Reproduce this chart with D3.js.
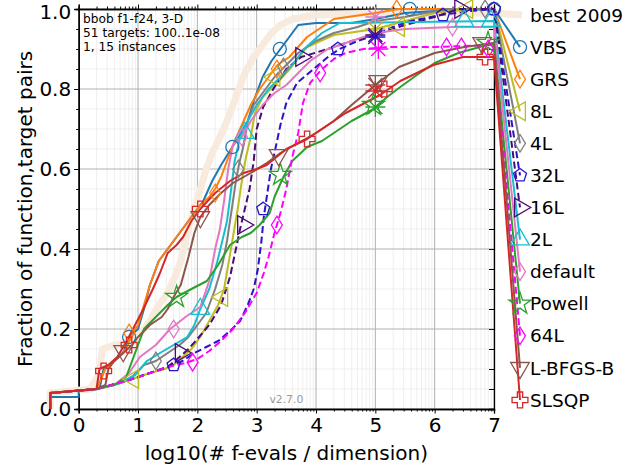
<!DOCTYPE html>
<html lang="en">
<head>
<meta charset="UTF-8">
<title>bbob f1-f24, 3-D runtime ECDF</title>
<script src="https://d3js.org/d3.v7.min.js"></script>
<style>
  body { margin: 0; background: #fff; }
  svg { display: block; font-family: "DejaVu Sans", sans-serif; }
</style>
</head>
<body>
<div id="chart"></div>
<script>
// legend order, top to bottom
const algNames = ["best 2009", "VBS", "GRS", "8L", "4L", "32L", "16L", "2L", "default", "Powell", "64L", "L-BFGS-B", "SLSQP"];
const xTicks = [0, 1, 2, 3, 4, 5, 6, 7];
const yTicks = [0.0, 0.2, 0.4, 0.6, 0.8, 1.0];
const infoLines = ["bbob f1-f24, 3-D", "51 targets: 100..1e-08", "1, 15 instances"];

// ECDF curves: [log10(# f-evals / dim), fraction]
const curveBest = [[-0.48,0],[-0.48,0.04],[0.2,0.05],[0.35,0.09],[0.4,0.15],[0.6,0.16],[0.9,0.165],[1.05,0.19],[1.2,0.22],[1.35,0.26],[1.5,0.29],[1.62,0.33],[1.72,0.37],[1.8,0.42],[1.88,0.47],[1.95,0.5],[2.05,0.55],[2.15,0.6],[2.25,0.64],[2.35,0.67],[2.5,0.72],[2.6,0.76],[2.7,0.8],[2.8,0.84],[2.95,0.88],[3.1,0.91],[3.25,0.94],[3.4,0.96],[3.6,0.975],[4,0.985],[5,0.99],[6,0.99],[7,0.99]];
const curveVBS = [[-0.48,0],[-0.48,0.03],[0,0.03],[0,0.045],[0.35,0.05],[0.42,0.1],[0.6,0.12],[0.75,0.14],[0.85,0.18],[1.0,0.2],[1.1,0.25],[1.2,0.31],[1.35,0.37],[1.5,0.4],[1.65,0.43],[1.8,0.46],[2.0,0.5],[2.1,0.52],[2.25,0.57],[2.4,0.61],[2.59,0.655],[2.7,0.68],[2.85,0.72],[2.95,0.77],[3.1,0.83],[3.25,0.87],[3.4,0.9],[3.55,0.93],[3.7,0.96],[4.0,0.965],[4.6,0.965],[5.0,0.975],[5.5,0.99],[6,0.995],[7,1.0]];
const curveGRS = [[-0.48,0],[-0.48,0.04],[0.3,0.05],[0.45,0.1],[0.6,0.12],[0.8,0.15],[0.9,0.19],[1.0,0.21],[1.1,0.26],[1.2,0.31],[1.35,0.37],[1.5,0.4],[1.7,0.44],[1.9,0.48],[2.05,0.51],[2.2,0.53],[2.3,0.55],[2.4,0.58],[2.5,0.62],[2.6,0.66],[2.75,0.71],[2.9,0.76],[3.05,0.8],[3.2,0.83],[3.35,0.86],[3.55,0.88],[3.85,0.93],[4.1,0.955],[4.3,0.975],[5.0,0.99],[5.4,1.0],[7,1.0]];
const curve8L = [[-0.48,0],[-0.48,0.04],[0.3,0.05],[0.6,0.06],[0.9,0.075],[1.2,0.09],[1.45,0.1],[1.6,0.11],[1.75,0.13],[1.9,0.15],[2.05,0.18],[2.2,0.22],[2.35,0.26],[2.45,0.3],[2.52,0.36],[2.6,0.43],[2.68,0.5],[2.75,0.57],[2.82,0.63],[2.9,0.68],[2.97,0.74],[3.1,0.78],[3.34,0.815],[3.56,0.85],[3.85,0.905],[4.3,0.935],[5.0,0.95],[5.5,0.97],[6,0.99],[6.5,1.0],[7,1.0]];
const curve4L = [[-0.48,0],[-0.48,0.04],[0.3,0.05],[0.7,0.065],[0.9,0.08],[1.1,0.11],[1.3,0.12],[1.5,0.14],[1.7,0.16],[1.85,0.18],[2.0,0.21],[2.15,0.24],[2.3,0.3],[2.42,0.36],[2.5,0.42],[2.58,0.5],[2.65,0.57],[2.7,0.61],[2.78,0.66],[2.85,0.72],[2.95,0.76],[3.1,0.79],[3.3,0.83],[3.5,0.86],[3.7,0.89],[4.0,0.92],[4.3,0.94],[4.7,0.955],[5.0,0.97],[5.5,0.98],[6.2,1.0],[7,1.0]];
const curve32L = [[-0.48,0],[-0.48,0.04],[0.3,0.05],[0.8,0.07],[1.2,0.09],[1.5,0.105],[1.75,0.12],[1.95,0.14],[2.15,0.155],[2.35,0.17],[2.55,0.195],[2.72,0.22],[2.85,0.26],[2.95,0.3],[3.02,0.35],[3.08,0.42],[3.12,0.48],[3.18,0.54],[3.24,0.6],[3.3,0.64],[3.4,0.71],[3.5,0.765],[3.68,0.815],[4.0,0.855],[4.24,0.885],[4.4,0.9],[4.7,0.92],[5.0,0.935],[5.3,0.955],[5.6,0.97],[6.1,0.985],[6.6,0.995],[7,1.0]];
const curve16L = [[-0.48,0],[-0.48,0.04],[0.3,0.05],[0.8,0.07],[1.2,0.09],[1.5,0.105],[1.7,0.13],[1.85,0.15],[2.0,0.175],[2.2,0.21],[2.4,0.26],[2.55,0.33],[2.65,0.4],[2.72,0.45],[2.8,0.5],[2.88,0.55],[2.95,0.62],[3.0,0.7],[3.11,0.755],[3.28,0.8],[3.5,0.85],[3.75,0.88],[4.2,0.9],[4.6,0.92],[5.0,0.935],[5.5,0.96],[6.0,0.98],[6.4,1.0],[7,1.0]];
const curve2L = [[-0.48,0],[-0.48,0.04],[0.3,0.05],[0.7,0.065],[0.95,0.085],[1.15,0.12],[1.37,0.14],[1.6,0.16],[1.83,0.18],[1.95,0.21],[2.05,0.25],[2.2,0.3],[2.33,0.365],[2.42,0.42],[2.5,0.47],[2.57,0.55],[2.63,0.62],[2.72,0.68],[2.85,0.72],[3.0,0.76],[3.2,0.8],[3.4,0.83],[3.6,0.86],[3.8,0.9],[4.1,0.94],[4.4,0.965],[7,0.97]];
const curveDefault = [[-0.48,0],[-0.48,0.04],[0.3,0.05],[0.6,0.06],[0.85,0.09],[1.03,0.13],[1.3,0.16],[1.54,0.2],[1.8,0.23],[2.05,0.255],[2.2,0.32],[2.3,0.4],[2.38,0.45],[2.45,0.52],[2.52,0.6],[2.6,0.66],[2.75,0.68],[2.9,0.72],[3.1,0.76],[3.3,0.79],[3.5,0.81],[3.7,0.84],[3.9,0.87],[4.2,0.9],[4.6,0.92],[5.0,0.94],[5.5,0.95],[6.3,0.955],[7,0.955]];
const curvePowell = [[-0.48,0],[-0.48,0.04],[0.3,0.05],[0.6,0.06],[0.8,0.08],[0.9,0.12],[1.0,0.16],[1.1,0.2],[1.3,0.23],[1.5,0.26],[1.65,0.28],[1.9,0.3],[2.16,0.32],[2.35,0.36],[2.55,0.41],[2.75,0.43],[2.9,0.44],[3.05,0.46],[3.22,0.49],[3.3,0.53],[3.45,0.58],[3.6,0.62],[3.85,0.655],[4.1,0.67],[4.3,0.69],[4.6,0.72],[4.97,0.75],[5.2,0.78],[5.42,0.805],[5.7,0.835],[6.0,0.865],[6.4,0.89],[7,0.915]];
const curve64L = [[-0.48,0],[-0.48,0.04],[0.3,0.05],[0.8,0.07],[1.2,0.09],[1.5,0.105],[1.8,0.115],[2.0,0.125],[2.2,0.145],[2.4,0.17],[2.6,0.2],[2.8,0.24],[3.0,0.29],[3.12,0.34],[3.2,0.38],[3.3,0.44],[3.4,0.49],[3.5,0.55],[3.6,0.63],[3.7,0.69],[3.78,0.765],[3.9,0.815],[4.07,0.845],[4.3,0.875],[4.5,0.89],[4.8,0.9],[5.2,0.905],[6,0.905],[7,0.91]];
const curveLBFGSB = [[-0.48,0],[-0.48,0.04],[0.3,0.05],[0.45,0.06],[0.5,0.1],[0.6,0.12],[0.75,0.14],[0.9,0.16],[1.0,0.18],[1.2,0.21],[1.4,0.23],[1.5,0.25],[1.6,0.28],[1.72,0.31],[1.85,0.38],[1.95,0.44],[2.05,0.48],[2.2,0.51],[2.4,0.54],[2.6,0.565],[2.9,0.59],[3.17,0.615],[3.4,0.64],[3.7,0.665],[4.0,0.69],[4.3,0.72],[4.6,0.76],[5.0,0.81],[5.4,0.855],[6.0,0.89],[6.5,0.905],[7,0.915]];
const curveSLSQP = [[-0.48,0],[-0.48,0.04],[0.3,0.05],[0.35,0.1],[0.5,0.11],[0.65,0.13],[0.81,0.17],[0.95,0.21],[1.09,0.25],[1.25,0.3],[1.37,0.34],[1.5,0.39],[1.65,0.41],[1.76,0.43],[1.9,0.47],[2.05,0.5],[2.3,0.54],[2.55,0.57],[2.78,0.59],[3.0,0.6],[3.17,0.61],[3.5,0.65],[3.85,0.675],[4.1,0.7],[4.5,0.74],[5.08,0.785],[5.42,0.82],[5.98,0.86],[6.48,0.88],[7,0.88]];

// marker positions on the curves
const marksVBS = [[0.85,0.18],[2.59,0.655],[3.39,0.9],[5.58,1.0],[7,1.0]];
const marksGRS = [[0.85,0.19],[2.3,0.54],[3.34,0.85],[5.36,1.0]];
const marks8L = [[0.92,0.075],[2.42,0.28],[3.3,0.83],[5.4,0.955],[6.55,1.0]];
const marks4L = [[1.3,0.12],[2.69,0.6],[3.45,0.855],[6.85,1.0]];
const marks32L = [[1.6,0.11],[3.11,0.5],[4.37,0.9],[6.14,0.985],[7,1.0]];
const marks16L = [[1.72,0.14],[2.77,0.46],[3.75,0.88],[6.43,1.0]];
const marks2L = [[2.05,0.25],[2.8,0.69],[6.5,0.97],[6.95,0.97]];
const marksDefault = [[1.6,0.2],[2.75,0.68],[6.3,0.955]];
const marksPowell = [[1.65,0.28],[3.4,0.585],[4.97,0.76],[6.9,0.915]];
const marks64L = [[1.92,0.117],[3.34,0.46],[4.07,0.84],[6.2,0.905],[6.45,0.905],[6.9,0.9]];
const marksLBFGSB = [[0.75,0.145],[2.05,0.48],[3.37,0.635],[5.05,0.82],[6.8,0.915]];
const marksSLSQP = [[0.42,0.095],[0.85,0.16],[2.05,0.5],[3.85,0.675],[5.15,0.8],[6.85,0.88]];

// budget (max evals) crosses at log10 = 5
const budgetAlgs = ["default", "8L", "16L", "32L", "64L", "L-BFGS-B", "SLSQP", "Powell"];
const budgetX = [5.0, 5.0, 5.0, 5.0, 5.05, 5.0, 5.0, 5.0];
const budgetY = [0.98, 0.95, 0.935, 0.93, 0.9, 0.81, 0.795, 0.755];

const curves = [curveBest, curveVBS, curveGRS, curve8L, curve4L, curve32L, curve16L, curve2L, curveDefault, curvePowell, curve64L, curveLBFGSB, curveSLSQP];
const marks = [[], marksVBS, marksGRS, marks8L, marks4L, marks32L, marks16L, marks2L, marksDefault, marksPowell, marks64L, marksLBFGSB, marksSLSQP];

// styles
const colors = ["#f8eadd", "#1f77b4", "#ff7f0e", "#bcbd22", "#7f7f7f", "#2a14c8", "#4b0a78", "#17becf", "#e377c2", "#2ca02c", "#ff00ff", "#8c564b", "#d62728"];
const dashed = new Set(["32L", "16L", "64L"]);

// custom symbols
const thinDiamond = { draw(ctx, size) { const h = Math.sqrt(size) * 0.72, w = h * 0.62;
  ctx.moveTo(0, -h); ctx.lineTo(w, 0); ctx.lineTo(0, h); ctx.lineTo(-w, 0); ctx.closePath(); } };
const pentagon = { draw(ctx, size) { const r = Math.sqrt(size) * 0.6;
  for (let i = 0; i < 5; i++) { const a = -Math.PI / 2 + i * 2 * Math.PI / 5;
    i ? ctx.lineTo(r * Math.cos(a), r * Math.sin(a)) : ctx.moveTo(r * Math.cos(a), r * Math.sin(a)); }
  ctx.closePath(); } };
const symbolOf = {
  "VBS": [d3.symbolCircle, 0, 135], "GRS": [thinDiamond, 0, 150], "8L": [d3.symbolTriangle, -90, 150],
  "4L": [thinDiamond, 0, 150], "32L": [pentagon, 0, 130], "16L": [d3.symbolTriangle, 90, 150],
  "2L": [d3.symbolTriangle, 0, 150], "default": [thinDiamond, 0, 150], "Powell": [d3.symbolStar, 0, 150],
  "64L": [thinDiamond, 0, 150], "L-BFGS-B": [d3.symbolTriangle, 180, 150], "SLSQP": [d3.symbolCross, 0, 140]
};

const W = 631, H = 473;
const x = d3.scaleLinear().domain([0, 7]).range([78.7, 494]);
const y = d3.scaleLinear().domain([0, 1]).range([409, 9]);
const legendMarkX = 520, legendTextX = 530, legendTop = 15, legendStep = 32.08;

const svg = d3.select("#chart").append("svg").attr("width", W).attr("height", H);

// grid
const minorX = [];
for (let k = 0; k < 7; k++) for (let m = 2; m < 10; m++) minorX.push(k + Math.log10(m));
const minorY = d3.range(1, 20).map(i => i * 0.05).filter(v => Math.abs(v * 5 - Math.round(v * 5)) > 1e-6);
const grid = svg.append("g");
grid.selectAll(".mx").data(minorX).enter().append("line")
  .attr("x1", d => x(d)).attr("x2", d => x(d)).attr("y1", y(0)).attr("y2", y(1))
  .attr("stroke", "#ebebeb").attr("stroke-width", 0.8);
grid.selectAll(".my").data(minorY).enter().append("line")
  .attr("x1", x(0)).attr("x2", x(7)).attr("y1", d => y(d)).attr("y2", d => y(d))
  .attr("stroke", "#ebebeb").attr("stroke-width", 0.8);
grid.selectAll(".gx").data(xTicks).enter().append("line")
  .attr("x1", d => x(d)).attr("x2", d => x(d)).attr("y1", y(0)).attr("y2", y(1))
  .attr("stroke", "#b0b0b0").attr("stroke-width", 1);
grid.selectAll(".gy").data(yTicks).enter().append("line")
  .attr("x1", x(0)).attr("x2", x(7)).attr("y1", d => y(d)).attr("y2", d => y(d))
  .attr("stroke", "#b0b0b0").attr("stroke-width", 1);

// axes
const axB = svg.append("g").attr("transform", `translate(0,${y(0)})`)
  .call(d3.axisBottom(x).tickValues(xTicks).tickFormat(d3.format("d")).tickSize(4.5).tickPadding(4));
axB.selectAll(".tick text").attr("font-size", 20).attr("font-family", "DejaVu Sans");
const axBm = svg.append("g").attr("transform", `translate(0,${y(0)})`)
  .call(d3.axisBottom(x).tickValues(minorX).tickFormat("").tickSize(2.5));
const axT = svg.append("g").attr("transform", `translate(0,${y(1)})`)
  .call(d3.axisTop(x).tickValues(xTicks).tickFormat("").tickSize(4.5));
const axTm = svg.append("g").attr("transform", `translate(0,${y(1)})`)
  .call(d3.axisTop(x).tickValues(minorX).tickFormat("").tickSize(2.5));
const axL = svg.append("g").attr("transform", `translate(${x(0)},0)`)
  .call(d3.axisLeft(y).tickValues(yTicks).tickFormat(d3.format(".1f")).tickSize(4.5).tickPadding(3));
axL.selectAll(".tick text").attr("font-size", 20).attr("font-family", "DejaVu Sans");
// keep the top label inside the picture
axL.selectAll(".tick text").filter(d => d === 1).attr("dy", "0.46em");
const axLm = svg.append("g").attr("transform", `translate(${x(0)},0)`)
  .call(d3.axisLeft(y).tickValues(minorY).tickFormat("").tickSize(2.5));
const axR = svg.append("g").attr("transform", `translate(${x(7)},0)`)
  .call(d3.axisLeft(y).tickValues(minorY.concat(yTicks)).tickFormat("").tickSize(5));
[axB, axBm, axT, axTm, axL, axLm, axR].forEach(a => {
  a.select(".domain").attr("stroke", "#000").attr("stroke-width", 1.3);
  a.selectAll(".tick line").attr("stroke", "#000").attr("stroke-width", 1);
  a.selectAll(".tick text").attr("fill", "#000");
});

// info text and version
svg.append("g").selectAll("text").data(infoLines).enter().append("text")
  .attr("x", 83).attr("y", (d, i) => 22.5 + i * 14.2)
  .attr("font-size", 12.2).text(d => d);
svg.append("text").attr("x", (x(0) + x(7)) / 2).attr("y", 403).attr("text-anchor", "middle")
  .attr("font-size", 10.8).attr("fill", "#999").text("v2.7.0");

// axis labels
svg.append("text").attr("x", (x(0) + x(7)) / 2).attr("y", 460).attr("text-anchor", "middle")
  .attr("font-size", 20).text("log10(# f-evals / dimension)");
svg.append("text").attr("transform", `translate(32,${(y(0) + y(1)) / 2}) rotate(-90)`)
  .attr("text-anchor", "middle").attr("font-size", 20).text("Fraction of function,target pairs");

// curves
const line = d3.line().x(d => x(d[0])).y(d => y(d[1]));
const plot = svg.append("g");
curves.forEach((pts, i) => {
  const name = algNames[i];
  const ly = legendTop + i * legendStep;
  const isBest = i === 0;
  const p = plot.append("path")
    .attr("d", line(pts) + `L${isBest ? 522 : legendMarkX},${ly}`)
    .attr("fill", "none").attr("stroke", colors[i])
    .attr("stroke-width", isBest ? 7 : 2)
    .attr("stroke-linejoin", "round");
  if (dashed.has(name)) p.attr("stroke-dasharray", "7,3.5");
});

// budget crosses
const cross = d3.range(4).map(k => {
  const a = k * Math.PI / 4, r = 10;
  return `M${-r * Math.cos(a)},${-r * Math.sin(a)}L${r * Math.cos(a)},${r * Math.sin(a)}`;
}).join("");
budgetAlgs.forEach((name, j) => {
  plot.append("path").attr("d", cross)
    .attr("transform", `translate(${x(budgetX[j])},${y(budgetY[j])})`)
    .attr("fill", "none").attr("stroke", colors[algNames.indexOf(name)]).attr("stroke-width", 1.3);
});

// markers (curve and legend)
marks.forEach((mk, i) => {
  if (i === 0) return;
  const name = algNames[i];
  const [type, rot, size] = symbolOf[name];
  const sym = d3.symbol().type(type).size(size);
  const ly = legendTop + i * legendStep;
  const pos = mk.map(d => [x(d[0]), y(d[1])]).concat([[legendMarkX, ly]]);
  plot.append("g").selectAll("path").data(pos).enter().append("path")
    .attr("d", sym())
    .attr("transform", d => `translate(${d[0]},${d[1]}) rotate(${rot})`)
    .attr("fill", "none").attr("stroke", colors[i]).attr("stroke-width", 1.3);
});

// legend labels
svg.append("g").selectAll("text").data(algNames).enter().append("text")
  .attr("x", legendTextX).attr("y", (d, i) => legendTop + i * legendStep)
  .attr("dy", "0.36em").attr("font-size", 18.5).text(d => d);
</script>
</body>
</html>
